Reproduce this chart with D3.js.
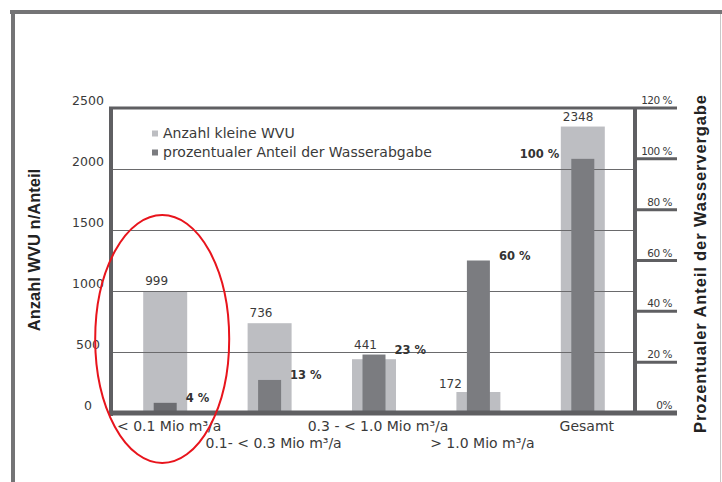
<!DOCTYPE html>
<html>
<head>
    <title>WVU Anzahl und Anteil</title>
    <script src="https://d3js.org/d3.v7.min.js"></script>
    <style>
        body { margin: 0; background: #fff; }
        text { font-family: "DejaVu Sans", sans-serif; fill: #3a3a3a; }
        .title { font-family: "Liberation Sans", Arial, sans-serif; font-weight: bold; font-size: 16.5px; fill: #222; }
        .tick { font-size: 12.5px; }
        .rtick { font-size: 10.5px; letter-spacing: -0.5px; }
        .cat { font-size: 14px; }
        .val { font-size: 12px; }
        .pct { font-size: 11.5px; font-weight: bold; fill: #333; }
        .legend { font-size: 14px; }
    </style>
</head>
<body>
<script>
    // data
    var categories = ["< 0.1 Mio m³/a", "0.1- < 0.3 Mio m³/a", "0.3 - < 1.0 Mio m³/a", "> 1.0 Mio m³/a", "Gesamt"];
    var anzahl = [999, 736, 441, 172, 2348];
    var anteil = [4, 13, 23, 60, 100];
    var leftTicks = [0, 500, 1000, 1500, 2000, 2500];
    var rightTicks = [0, 20, 40, 60, 80, 100, 120];
    var legendLabels = ["Anzahl kleine WVU", "prozentualer Anteil der Wasserabgabe"];

    var width = 722, height = 482;
    var light = "#bdbec2", dark = "#7b7c80", axisCol = "#5f5f62";

    var svg = d3.select("body").append("svg")
        .attr("width", width)
        .attr("height", height);

    // outer frame
    svg.append("line").attr("x1", 10).attr("x2", width).attr("y1", 12).attr("y2", 12)
        .attr("stroke", "#747476").attr("stroke-width", 4);
    svg.append("line").attr("x1", 13).attr("x2", 13).attr("y1", 10).attr("y2", height)
        .attr("stroke", "#747476").attr("stroke-width", 4);
    svg.append("line").attr("x1", 720.5).attr("x2", 720.5).attr("y1", 14).attr("y2", height)
        .attr("stroke", "#c8c8c8").attr("stroke-width", 1);

    var pLeft = 113, pRight = 635, pTop = 108, pBottom = 413;

    var x = d3.scaleBand().domain(categories).range([pLeft, pRight]);
    var y = d3.scaleLinear().domain([0, 2500]).range([pBottom, pTop]);
    var yp = d3.scaleLinear().domain([0, 120]).range([pBottom, pTop]);

    var lightW = 44, darkW = 23;
    var cx = function(c) { return x(c) + x.bandwidth() / 2; };

    // light bars (behind the grid)
    svg.append("g").selectAll("rect")
        .data(categories)
        .join("rect")
        .attr("x", function(d) { return cx(d) - lightW / 2; })
        .attr("y", function(d, i) { return y(anzahl[i]); })
        .attr("width", lightW)
        .attr("height", function(d, i) { return pBottom - y(anzahl[i]); })
        .attr("fill", light);

    // grid lines
    svg.append("g").selectAll("line")
        .data(leftTicks.filter(function(t) { return t > 0 && t < 2500; }))
        .join("line")
        .attr("x1", pLeft).attr("x2", pRight)
        .attr("y1", function(d) { return Math.round(y(d)) + 0.5; })
        .attr("y2", function(d) { return Math.round(y(d)) + 0.5; })
        .attr("stroke", "#6a6a6c").attr("stroke-width", 1.2);

    // dark bars
    svg.append("g").selectAll("rect")
        .data(categories)
        .join("rect")
        .attr("x", function(d) { return cx(d) - darkW / 2; })
        .attr("y", function(d, i) { return yp(anteil[i]); })
        .attr("width", darkW)
        .attr("height", function(d, i) { return pBottom - yp(anteil[i]); })
        .attr("fill", function(d, i) { return i === 0 ? "#6c6d71" : dark; });

    // frame of the plot
    svg.append("line").attr("x1", pLeft - 2).attr("x2", pLeft - 2).attr("y1", pTop - 1).attr("y2", pBottom + 3)
        .attr("stroke", axisCol).attr("stroke-width", 4);
    svg.append("line").attr("x1", pLeft - 4).attr("x2", pRight + 42).attr("y1", pTop).attr("y2", pTop)
        .attr("stroke", axisCol).attr("stroke-width", 3);
    svg.append("line").attr("x1", pRight).attr("x2", pRight).attr("y1", pTop).attr("y2", pBottom)
        .attr("stroke", axisCol).attr("stroke-width", 4);
    svg.append("line").attr("x1", pLeft - 4).attr("x2", pRight + 42).attr("y1", pBottom).attr("y2", pBottom)
        .attr("stroke", axisCol).attr("stroke-width", 5);

    // right ticks
    svg.append("g").selectAll("line")
        .data(rightTicks.filter(function(t) { return t > 0 && t < 120; }))
        .join("line")
        .attr("x1", pRight).attr("x2", pRight + 42)
        .attr("y1", function(d) { return yp(d); })
        .attr("y2", function(d) { return yp(d); })
        .attr("stroke", axisCol).attr("stroke-width", 3);

    // left tick labels
    svg.append("g").selectAll("text")
        .data(leftTicks)
        .join("text")
        .attr("class", "tick")
        .attr("x", 88)
        .attr("y", function(d) { return y(d) - 3; })
        .attr("text-anchor", "middle")
        .text(function(d) { return d; });

    // right tick labels
    svg.append("g").selectAll("text")
        .data(rightTicks)
        .join("text")
        .attr("class", "rtick")
        .attr("x", 672)
        .attr("y", function(d) { return yp(d) - 4; })
        .attr("text-anchor", "end")
        .text(function(d) { return d === 0 ? "0%" : d + " %"; });

    // value labels for the counts
    svg.append("g").selectAll("text")
        .data(categories)
        .join("text")
        .attr("class", "val")
        .each(function(d, i) {
            var lt = y(anzahl[i]), dt = yp(anteil[i]);
            var t = d3.select(this).text(anzahl[i]);
            if (dt < lt - 20) {
                t.attr("x", cx(d) - darkW / 2 - 5).attr("y", lt - 4).attr("text-anchor", "end");
            } else {
                t.attr("x", cx(d) - lightW / 2 + 2).attr("y", Math.min(lt, dt) - 6).attr("text-anchor", "start");
            }
        });

    // percentage labels
    svg.append("g").selectAll("text")
        .data(categories)
        .join("text")
        .attr("class", "pct")
        .each(function(d, i) {
            var t = d3.select(this).text(anteil[i] + " %").attr("y", yp(anteil[i]) - 1);
            if (cx(d) + darkW / 2 + 50 > pRight) {
                t.attr("x", cx(d) - darkW / 2 - 12).attr("text-anchor", "end");
            } else {
                t.attr("x", cx(d) + darkW / 2 + 9).attr("text-anchor", "start");
            }
        });

    // category labels, alternating rows
    svg.append("g").selectAll("text")
        .data(categories)
        .join("text")
        .attr("class", "cat")
        .attr("x", function(d) { return cx(d) + 4; })
        .attr("y", function(d, i) { return i % 2 === 0 ? 431 : 448; })
        .attr("text-anchor", "middle")
        .text(function(d) { return d; });

    // legend
    var legend = svg.append("g").selectAll("g")
        .data(legendLabels)
        .join("g")
        .attr("transform", function(d, i) { return "translate(152," + (133 + i * 19) + ")"; });
    legend.append("rect")
        .attr("x", 0).attr("y", -2.5).attr("width", 6).attr("height", 6)
        .attr("fill", function(d, i) { return i === 0 ? light : dark; });
    legend.append("text")
        .attr("class", "legend")
        .attr("x", 11).attr("y", 5)
        .text(function(d) { return d; });

    // axis titles
    svg.append("text").attr("class", "title")
        .attr("transform", "translate(40,250) rotate(-90)")
        .attr("text-anchor", "middle")
        .text("Anzahl WVU n/Anteil");
    svg.append("text").attr("class", "title")
        .attr("transform", "translate(706,264) rotate(-90)")
        .attr("text-anchor", "middle")
        .attr("textLength", 338)
        .attr("lengthAdjust", "spacing")
        .text("Prozentualer Anteil der Wasservergabe");

    // red highlight around the first group
    svg.append("ellipse")
        .attr("cx", cx(categories[0]) - 3)
        .attr("cy", 339)
        .attr("rx", 67).attr("ry", 124)
        .attr("fill", "none")
        .attr("stroke", "#e8141c").attr("stroke-width", 2);
</script>
</body>
</html>
